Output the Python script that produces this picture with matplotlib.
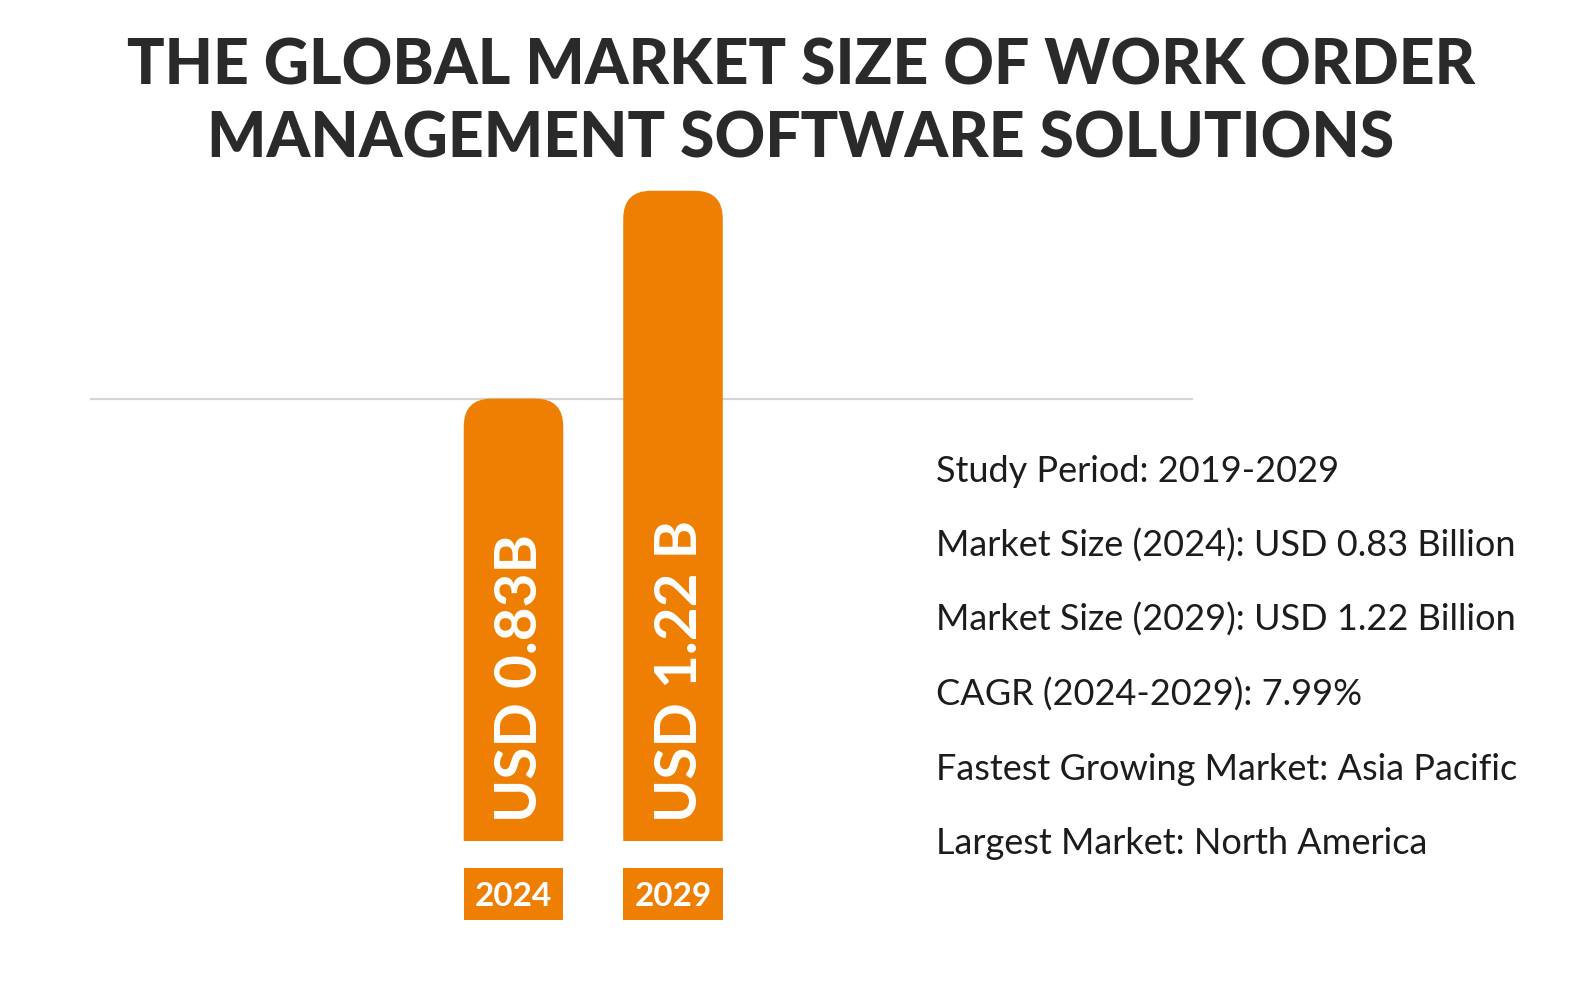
import matplotlib
matplotlib.use("Agg")
import matplotlib.pyplot as plt
from matplotlib.patches import FancyBboxPatch, Rectangle

# ---------------- data ----------------
years = ["2024", "2029"]
values = [0.83, 1.22]
bar_labels = ["USD 0.83B", "USD 1.22 B"]
title_lines = ["THE GLOBAL MARKET SIZE OF WORK ORDER",
               "MANAGEMENT SOFTWARE SOLUTIONS"]
info_lines = [
    "Study Period: 2019-2029",
    "Market Size (2024): USD 0.83 Billion",
    "Market Size (2029): USD 1.22 Billion",
    "CAGR (2024-2029): 7.99%",
    "Fastest Growing Market: Asia Pacific",
    "Largest Market: North America",
]

ORANGE = "#EF7F03"
DARK = "#2a2a2a"
TEXT = "#1c1c1c"

W, H = 1596, 986
fig = plt.figure(figsize=(W / 100, H / 100), dpi=100, facecolor="white")

# layout in pixels (from top-left)
px_per_unit = 533.0
base_px = 841.0
ax_left_px, ax_right_px = 90.0, 1193.0
ylo, yhi = -0.16, 1.30
ax_bottom_px = base_px - ylo * px_per_unit
ax_top_px = base_px - yhi * px_per_unit
ax = fig.add_axes([ax_left_px / W, (H - ax_bottom_px) / H,
                   (ax_right_px - ax_left_px) / W,
                   (ax_bottom_px - ax_top_px) / H])
spacing_px = 159.5
c0_px = 513.5
xlo = -(c0_px - ax_left_px) / spacing_px
xhi = xlo + (ax_right_px - ax_left_px) / spacing_px
ax.set_xlim(xlo, xhi)
ax.set_ylim(ylo, yhi)
ax.axis("off")

xs = list(range(len(years)))
bw = 0.624

# reference line at the 2024 value
ax.axhline(values[0], color="#d4d4d4", lw=1.6, zorder=1)

bars = ax.bar(xs, values, width=bw, color=ORANGE, zorder=2)
r_x = 28 / spacing_px
aspect = spacing_px / px_per_unit
clip_rect = Rectangle((xlo, 0), xhi - xlo, yhi, transform=ax.transData)
for b in bars:
    x0, w, h = b.get_x(), b.get_width(), b.get_height()
    b.set_visible(False)
    p = FancyBboxPatch((x0, -0.2), w, h + 0.2,
                       boxstyle=f"round,pad=0,rounding_size={r_x}",
                       mutation_aspect=aspect, fc=ORANGE, ec="none", zorder=2)
    ax.add_patch(p)
    p.set_clip_path(clip_rect)

# value labels inside the bars
for x, lab in zip(xs, bar_labels):
    ax.text(x + 0.045, 0.036, lab, rotation=90, rotation_mode="anchor",
            ha="left", va="center", color="white", fontsize=42,
            fontweight="bold", family="Lato", zorder=3)

# year label boxes
box_top = -(868 - base_px) / px_per_unit
box_bot = -(920 - base_px) / px_per_unit
ax.bar(xs, [box_top - box_bot] * len(xs), bottom=box_bot, width=bw,
       color=ORANGE, zorder=2)
for x, yr in zip(xs, years):
    ax.text(x, (box_top + box_bot) / 2 - 0.004, yr, ha="center", va="center",
            color="white", fontsize=24, fontweight="bold", family="Lato",
            zorder=3)

# title
title_base = [84.5, 158.0]
for line, yb in zip(title_lines, title_base):
    fig.text(801 / W, 1 - yb / H, line, ha="center", va="baseline",
             fontsize=45, fontweight="black", family="Lato", color=DARK)

# info text on the right
for i, line in enumerate(info_lines):
    yb = 482 + i * 74.5
    fig.text(936 / W, 1 - yb / H, line, ha="left", va="baseline",
             fontsize=26, family="Lato", color=TEXT)

fig.savefig("out.png", dpi=100, facecolor="white")
